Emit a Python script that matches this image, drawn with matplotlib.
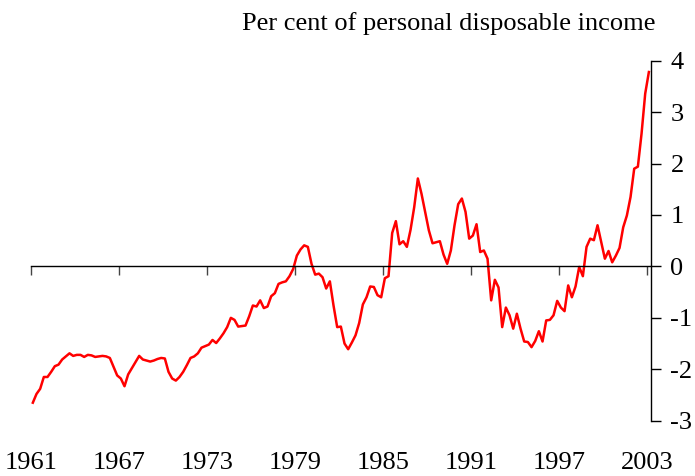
import numpy as np
import matplotlib
matplotlib.use("Agg")
import matplotlib.pyplot as plt

plt.rcParams["font.family"] = ["Liberation Serif", "DejaVu Serif"]
plt.rcParams["axes.unicode_minus"] = False

# quarterly, 1961 Q1 to 2003 Q1
first_year = 1961
n_quarters = 169
saving_gap = [
    -2.65, -2.48, -2.38, -2.15, -2.15, -2.05, -1.94, -1.91, -1.81, -1.75,
    -1.69, -1.74, -1.72, -1.72, -1.76, -1.72, -1.73, -1.76, -1.75, -1.74,
    -1.75, -1.78, -1.95, -2.12, -2.18, -2.33, -2.10, -1.98, -1.86, -1.74,
    -1.81, -1.83, -1.85, -1.83, -1.80, -1.78, -1.79, -2.05, -2.18, -2.22,
    -2.15, -2.05, -1.92, -1.78, -1.75, -1.69, -1.58, -1.55, -1.52, -1.43,
    -1.49, -1.40, -1.30, -1.18, -1.00, -1.04, -1.17, -1.16, -1.15, -0.97,
    -0.76, -0.78, -0.66, -0.81, -0.78, -0.58, -0.52, -0.34, -0.31, -0.29,
    -0.19, -0.05, 0.21, 0.33, 0.41, 0.38, 0.05, -0.16, -0.14, -0.21,
    -0.43, -0.29, -0.76, -1.18, -1.17, -1.50, -1.61, -1.48, -1.34, -1.10,
    -0.74, -0.60, -0.39, -0.40, -0.56, -0.60, -0.23, -0.19, 0.65, 0.88,
    0.43, 0.49, 0.38, 0.71, 1.15, 1.71, 1.41, 1.06, 0.70, 0.45,
    0.47, 0.49, 0.23, 0.05, 0.31, 0.80, 1.21, 1.32, 1.06, 0.54,
    0.60, 0.82, 0.28, 0.31, 0.15, -0.66, -0.26, -0.41, -1.18, -0.80,
    -0.95, -1.21, -0.92, -1.21, -1.46, -1.47, -1.57, -1.45, -1.26, -1.46,
    -1.05, -1.04, -0.95, -0.67, -0.80, -0.87, -0.37, -0.60, -0.39, -0.01,
    -0.19, 0.38, 0.54, 0.51, 0.80, 0.47, 0.15, 0.30, 0.08, 0.21,
    0.36, 0.76, 0.99, 1.35, 1.90, 1.94, 2.58, 3.36, 3.78,
]
year_ticks = [1961, 1967, 1973, 1979, 1985, 1991, 1997, 2003]
y_ticks = [-3, -2, -1, 0, 1, 2, 3, 4]
title = "Per cent of personal disposable income"

t = first_year + 0.125 + np.arange(n_quarters) / 4

fig = plt.figure(figsize=(6.95, 4.76), dpi=100)
ax = fig.add_axes([31 / 695, 55.3 / 476, 620 / 695, 360 / 476])

ax.plot(t, saving_gap, color="red", linewidth=1.8)

ax.set_xlim(1961, 2003.27)
ax.set_ylim(-3, 4)

for side in ("left", "top"):
    ax.spines[side].set_visible(False)
ax.spines["bottom"].set_position(("data", 0))
ax.spines["bottom"].set_linewidth(1)
ax.spines["right"].set_linewidth(1)

ax.yaxis.tick_right()
ax.set_yticks(y_ticks)
ax.set_yticklabels([f"{v:d}" for v in y_ticks])
ax.tick_params(axis="y", direction="out", length=7, width=1, pad=7, labelsize=19)

ax.set_xticks(year_ticks)
ax.set_xticklabels([])
ax.tick_params(axis="x", direction="out", length=6.5, width=1, color="#444444")

for yr in year_ticks:
    ax.text(yr, -3.945, str(yr), ha="center", va="baseline", fontsize=19, clip_on=False)

fig.text(655 / 695, 1 - 30 / 476, title, ha="right", va="baseline", fontsize=19)

fig.savefig("out.png", dpi=100)
